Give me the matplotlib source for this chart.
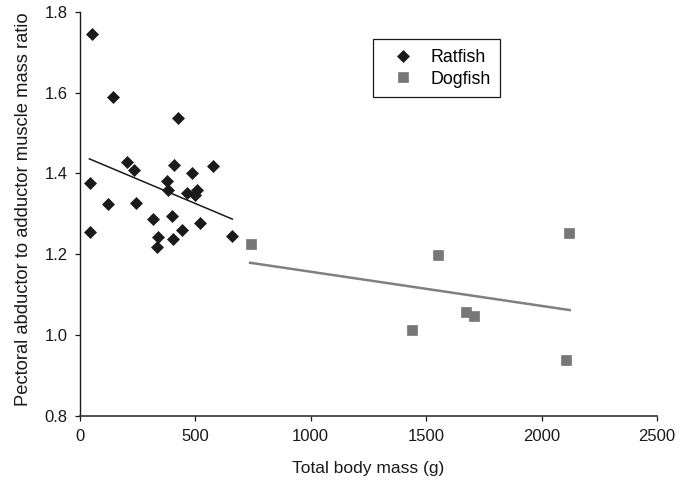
import matplotlib
matplotlib.use("Agg")
import matplotlib.pyplot as plt
import numpy as np

plt.rcParams['font.family'] = ['Liberation Sans', 'DejaVu Sans']

# Ratfish data (total body mass g, ratio)
ratfish_mass = [53, 146, 425, 206, 235, 409, 488, 579, 45, 377, 381, 464, 507,
                500, 124, 244, 319, 401, 521, 45, 445, 338, 403, 334, 659]
ratfish_ratio = [1.745, 1.590, 1.538, 1.428, 1.408, 1.421, 1.402, 1.419, 1.376,
                 1.382, 1.359, 1.351, 1.359, 1.347, 1.324, 1.326, 1.287, 1.295,
                 1.277, 1.256, 1.260, 1.242, 1.237, 1.217, 1.245]

# Dogfish data
dogfish_mass = [741, 1551, 2119, 1672, 1707, 1441, 2107]
dogfish_ratio = [1.225, 1.198, 1.252, 1.058, 1.047, 1.013, 0.939]

# Trend lines (endpoints)
ratfish_fit_x = [42, 661]
ratfish_fit_y = [1.436, 1.287]
dogfish_fit_x = [738, 2122]
dogfish_fit_y = [1.179, 1.062]

x_ticks = [0, 500, 1000, 1500, 2000, 2500]
y_ticks = [0.8, 1.0, 1.2, 1.4, 1.6, 1.8]

W, H = 689, 484
fig = plt.figure(figsize=(W / 100, H / 100), dpi=100)
ax = fig.add_axes([79.7 / W, 1 - 416 / H, (657 - 79.7) / W, (416 - 11.7) / H])

ax.plot(ratfish_fit_x, ratfish_fit_y, color='#1a1a1a', lw=1.1, zorder=2)
ax.plot(dogfish_fit_x, dogfish_fit_y, color='#808080', lw=1.8, zorder=2)

ax.plot(ratfish_mass, ratfish_ratio, linestyle='none', marker='D', ms=6.3,
        color='#1a1a1a', mec='#1a1a1a', mew=0.5, label='Ratfish', zorder=3)
ax.plot(dogfish_mass, dogfish_ratio, linestyle='none', marker='s', ms=7.0,
        color='#777777', mec='#777777', mew=0.5, label='Dogfish', zorder=3)

ax.set_xlim(0, 2500)
ax.set_ylim(0.8, 1.8)
ax.set_xticks(x_ticks)
ax.set_xticklabels([str(v) for v in x_ticks])
ax.set_yticks(y_ticks)
ax.set_yticklabels([f"{v:.1f}" for v in y_ticks])

for s in ['top', 'right']:
    ax.spines[s].set_visible(False)
ax.spines['left'].set_color('#1a1a1a')
ax.spines['bottom'].set_color('#333333')
ax.spines['left'].set_linewidth(1.0)
ax.spines['bottom'].set_linewidth(1.2)

ax.tick_params(axis='both', direction='out', length=3.6, width=0.9,
               colors='#1a1a1a', labelsize=12, pad=5)
ax.tick_params(axis='x', pad=6)

ax.set_xlabel('Total body mass (g)', fontsize=12.5, labelpad=12, color='#1a1a1a')
ax.set_ylabel('Pectoral abductor to adductor muscle mass ratio', fontsize=13.2,
              color='#1a1a1a')
ax.yaxis.set_label_coords(-0.082, 0.512)

leg = ax.legend(loc='upper left', bbox_to_anchor=(373.3 / W, 1 - 39.3 / H),
                bbox_transform=fig.transFigure, borderaxespad=0,
                frameon=True, fancybox=False, edgecolor='#1a1a1a',
                framealpha=1, fontsize=12.8, handlelength=2.2,
                handletextpad=0.45, borderpad=0.55, labelspacing=0.25)
leg.get_frame().set_linewidth(0.9)

fig.savefig('out.png', dpi=100)
